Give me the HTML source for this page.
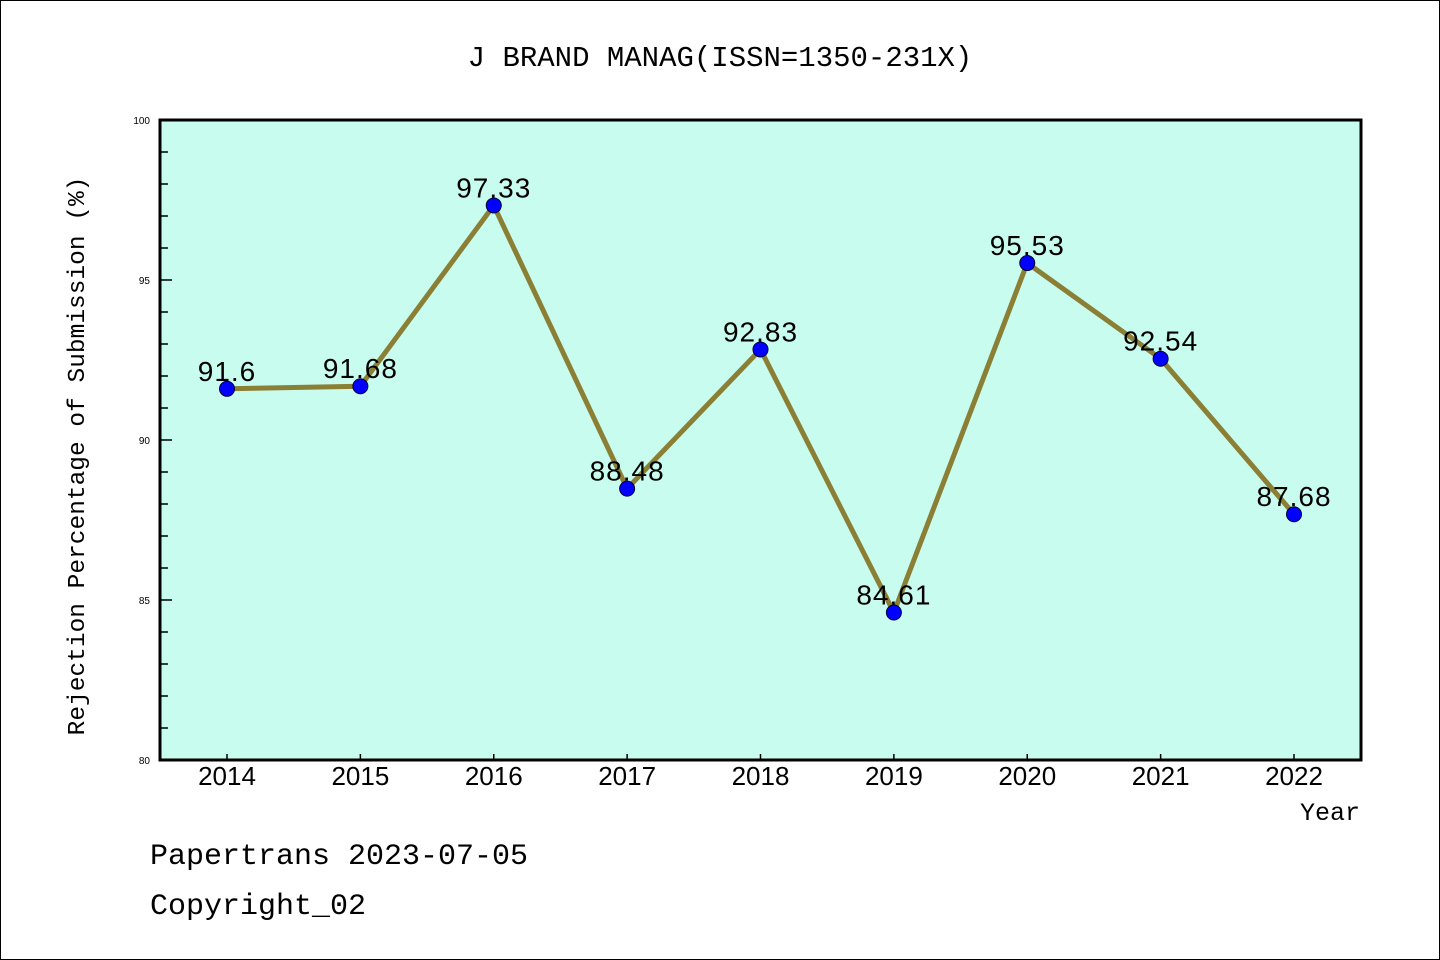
<!DOCTYPE html>
<html><head><meta charset="utf-8"><style>
body{margin:0;background:#fff}
svg{display:block}
</style></head><body>
<svg id="chart" width="1440" height="960" xmlns="http://www.w3.org/2000/svg">
<rect x="0.5" y="0.5" width="1439" height="959" fill="#fff" stroke="#000"/>
<text x="720" y="66" text-anchor="middle" font-family="Liberation Mono, monospace" font-size="29">J BRAND MANAG(ISSN=1350-231X)</text>
<rect x="160" y="120" width="1201" height="640" fill="#c8fcee"/>
<g id="axes"></g>
<g id="series"></g>
<rect x="160" y="120" width="1201" height="640" fill="none" stroke="#000" stroke-width="3"/>
<text transform="translate(84,456) rotate(-90)" text-anchor="middle" font-family="Liberation Mono, monospace" font-size="24.5">Rejection Percentage of Submission (%)</text>
<text x="1360" y="820" text-anchor="end" font-family="Liberation Mono, monospace" font-size="25">Year</text>
<text x="150" y="864" font-family="Liberation Mono, monospace" font-size="30">Papertrans 2023-07-05</text>
<text x="150" y="914" font-family="Liberation Mono, monospace" font-size="30">Copyright_02</text>
</svg>
<script>
const years = ["2014","2015","2016","2017","2018","2019","2020","2021","2022"];
const values = [91.6,91.68,97.33,88.48,92.83,84.61,95.53,92.54,87.68];
const valueLabels = ["91.6","91.68","97.33","88.48","92.83","84.61","95.53","92.54","87.68"];
const yTicks = [80,85,90,95,100];
const NS="http://www.w3.org/2000/svg";
const x0=227, x1=1294, plotTop=120, plotBottom=760, ymin=80, ymax=100;
const xs=i=>x0+(x1-x0)*i/(years.length-1);
const ys=v=>plotBottom-(v-ymin)/(ymax-ymin)*(plotBottom-plotTop);
function mk(t,a,p){const e=document.createElementNS(NS,t);for(const k in a)e.setAttribute(k,a[k]);p.appendChild(e);return e;}
const axes=document.getElementById('axes'), ser=document.getElementById('series');
for(let v=ymin;v<=ymax;v++){
  const major=yTicks.includes(v);
  const l=mk('line',{x1:160,x2:160+(major?12:8),y1:ys(v),y2:ys(v),stroke:'#000','stroke-width':1.5},axes);
  
  
}
yTicks.forEach(v=>{
  const t=mk('text',{x:150,y:ys(v)+4,'text-anchor':'end','font-family':'Liberation Sans, sans-serif','font-size':10},axes);
  t.textContent=v;
  
  
});
years.forEach((y,i)=>{
  const l=mk('line',{x1:xs(i),x2:xs(i),y1:760,y2:754,stroke:'#000','stroke-width':1.5},axes);
  
  
  const t=mk('text',{x:xs(i),y:785,'text-anchor':'middle','font-family':'Liberation Sans, sans-serif','font-size':26},axes);
  t.textContent=y;
  
  
});
const pts=values.map((v,i)=>xs(i)+','+ys(v)).join(' ');
const pl=mk('polyline',{points:pts,fill:'none',stroke:'#8a7f35','stroke-width':5,'stroke-linejoin':'round'},ser);


values.forEach((v,i)=>{
  const c=mk('circle',{cx:xs(i),cy:ys(v),r:7.5,fill:'#0000ff',stroke:'#000033','stroke-width':1},ser);
  
  
  const t=mk('text',{x:xs(i),y:ys(v)-8,'text-anchor':'middle','font-family':'Liberation Sans, sans-serif','font-size':28,'letter-spacing':1},ser);
  t.textContent=valueLabels[i];
  
  
});
</script>
</body></html>
